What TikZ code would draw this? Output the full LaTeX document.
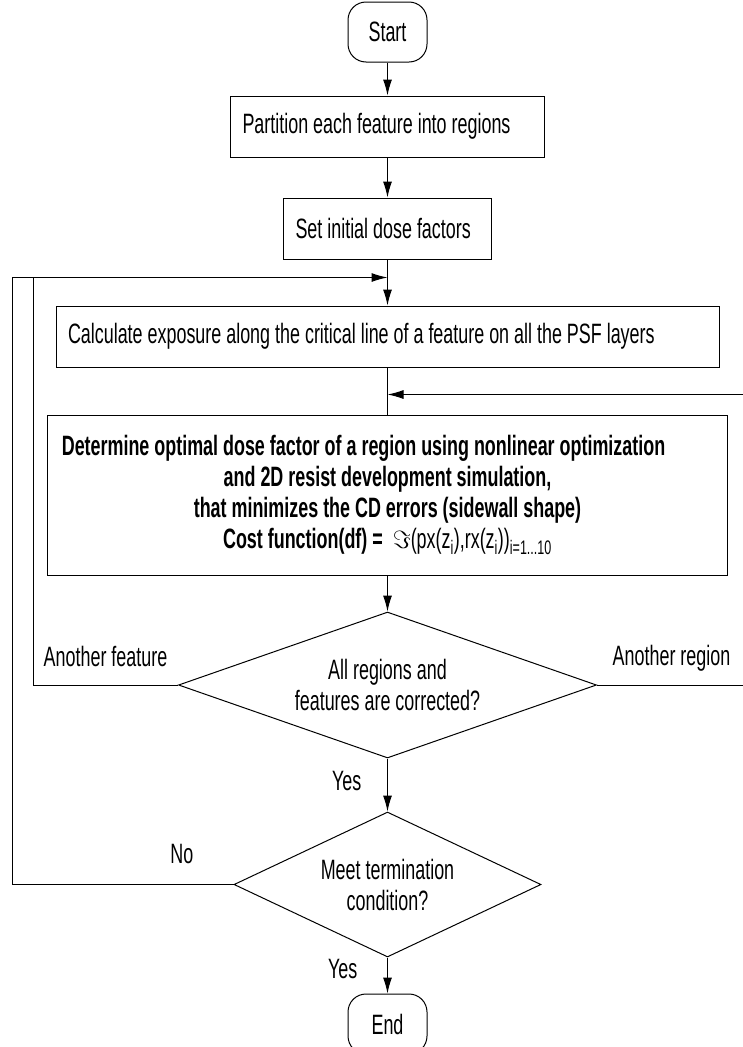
\documentclass[tikz,border=0pt]{standalone}
\usepackage{fontspec}
\setmainfont{Liberation Sans}[FakeStretch=0.64]
\usepackage{tikz}
\usetikzlibrary{arrows.meta,positioning,shapes.geometric}
\newcommand{\flowfont}{\fontsize{28pt}{31pt}\selectfont}

\begin{document}
\begin{tikzpicture}[
      x=1pt, y=1pt,
      >=Latex,
      every node/.style={font=\flowfont},
      % boxes, terminals and decisions share the same pen
      stepbox/.style={draw=black, line width=1pt, minimum height=61pt, inner xsep=12pt, inner ysep=0pt, align=flush left},
      termbox/.style={draw=black, line width=1pt, rounded corners=18pt, minimum width=79pt, minimum height=60pt},
      decision/.style={draw=black, line width=1pt, diamond, aspect=2.5, inner sep=0pt, align=center},
      lbl/.style={inner sep=0pt, text height=20pt, text depth=6pt},
      flow/.style={-{Latex[length=16pt,width=9pt]}, line width=1pt}
    ]
      \useasboundingbox (0,0) rectangle (742,-1047);
      \node[termbox] (start) at (387.5,-32) {Start};
      \node[stepbox, text width=290pt, below=33pt of start] (part) {Partition each feature into regions};
      \node[stepbox, text width=184pt, below=40pt of part] (dose) {Set initial dose factors};
      \node[stepbox, text width=639pt, below=46pt of dose] (expo) {Calculate exposure along the critical line of a feature on all the PSF layers};
      \node[stepbox, text width=656pt, minimum height=160pt, align=flush center, font=\flowfont\bfseries, below=47pt of expo] (opt) {\hspace*{-48pt}Determine optimal dose factor of a region using nonlinear optimization\\
        and 2D resist development simulation,\\
        that minimizes the CD errors (sidewall shape)\\
        Cost function(df) = {\mdseries\ $\Im$(px(z\textsubscript{i}),rx(z\textsubscript{i}))\textsubscript{i=1...10}}};
      \node[decision, minimum width=418pt, minimum height=146pt, below=36pt of opt] (check) {All regions and\\features are corrected?};
      \node[decision, minimum width=307pt, minimum height=145pt, below=53pt of check] (term) {Meet termination\\condition?};
      \node[termbox, below=36pt of term] (stop) {End};
      % loop entry points and the rails round the sides
      \coordinate (join) at ([yshift=-18pt]dose.south);
      \coordinate (railA) at ([xshift=-375.5pt]join);
      \coordinate (railB) at ([xshift=-354.5pt]join);
      \coordinate (back) at ([yshift=-27pt]expo.south);
      \coordinate (railC) at ([xshift=358.5pt]back);
      \draw[flow] (start) -- (part);
      \draw[flow] (part) -- (dose);
      \draw[flow] (dose) -- (expo);
      \draw[line width=1pt] (expo) -- (opt);
      \draw[flow] (opt) -- (check);
      \draw[flow] (check) -- (term);
      \draw[flow] (term) -- (stop);
      \draw[flow] (term.west) -| (railA) -- (join);
      \draw[line width=1pt] (check.west) -| node[lbl, pos=0.25, above=12pt] {Another feature} (railB);
      \draw[flow] (check.east) -| node[lbl, pos=0.25, above=13pt] {Another region} (railC) -- (back);
      \node[lbl, below left=12pt and 26pt of check.south] (yes1) {Yes};
      \node[lbl, below left=1pt and 30pt of term.south] (yes2) {Yes};
      \node[lbl, above left=15pt and 40pt of term.west] (no) {No};
    \end{tikzpicture}
\end{document}
